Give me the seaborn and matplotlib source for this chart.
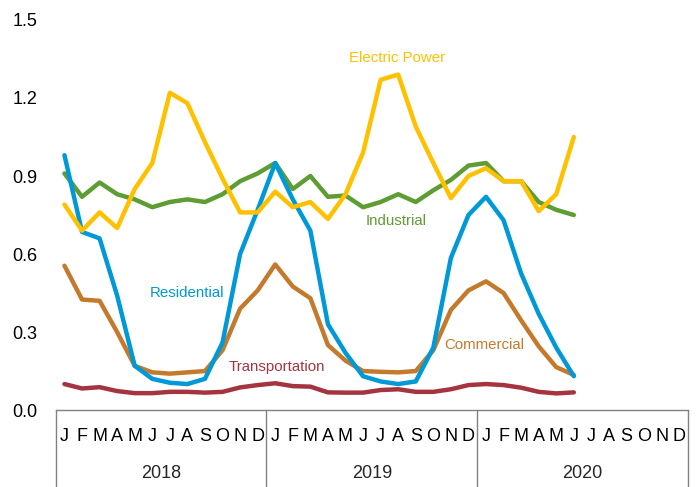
import matplotlib
matplotlib.use('Agg')
import matplotlib.pyplot as plt
import matplotlib.transforms as mtransforms
import numpy as np
import pandas as pd
import seaborn as sns

sns.set_theme(style='white')
plt.rcParams['font.family'] = ['Liberation Sans', 'DejaVu Sans']

# Jan 2018 .. Jun 2020, monthly values
electric = [0.79, 0.69, 0.76, 0.70, 0.85, 0.95, 1.22, 1.18, 1.03, 0.89, 0.76, 0.76,
            0.84, 0.78, 0.80, 0.735, 0.83, 0.99, 1.27, 1.29, 1.09, 0.95, 0.815, 0.90,
            0.93, 0.88, 0.88, 0.765, 0.83, 1.05]
industrial = [0.91, 0.82, 0.875, 0.83, 0.81, 0.78, 0.80, 0.81, 0.80, 0.83, 0.88, 0.91,
              0.95, 0.85, 0.90, 0.82, 0.825, 0.78, 0.80, 0.83, 0.80, 0.845, 0.885, 0.94,
              0.95, 0.88, 0.88, 0.80, 0.77, 0.75]
residential = [0.98, 0.685, 0.66, 0.44, 0.17, 0.12, 0.105, 0.10, 0.12, 0.26, 0.60, 0.77,
               0.95, 0.81, 0.69, 0.33, 0.22, 0.13, 0.11, 0.10, 0.11, 0.24, 0.585, 0.75,
               0.82, 0.73, 0.525, 0.37, 0.24, 0.13]
commercial = [0.555, 0.425, 0.42, 0.30, 0.17, 0.145, 0.14, 0.145, 0.15, 0.23, 0.39, 0.46,
              0.56, 0.475, 0.43, 0.25, 0.19, 0.15, 0.147, 0.145, 0.15, 0.23, 0.385, 0.46,
              0.495, 0.45, 0.345, 0.245, 0.165, 0.135]
transport = [0.10, 0.083, 0.088, 0.073, 0.065, 0.065, 0.07, 0.07, 0.067, 0.07, 0.087, 0.096,
             0.103, 0.092, 0.09, 0.068, 0.067, 0.067, 0.077, 0.08, 0.07, 0.07, 0.08, 0.096,
             0.10, 0.096, 0.086, 0.07, 0.064, 0.068]

month_letters = ['J', 'F', 'M', 'A', 'M', 'J', 'J', 'A', 'S', 'O', 'N', 'D']
years = ['2018', '2019', '2020']
y_ticks = [0.0, 0.3, 0.6, 0.9, 1.2, 1.5]

series = {
    'Transportation': transport,
    'Commercial': commercial,
    'Industrial': industrial,
    'Residential': residential,
    'Electric Power': electric,
}
palette = {
    'Transportation': '#A4343F',
    'Commercial': '#C47A2C',
    'Industrial': '#5E9C34',
    'Residential': '#0099D8',
    'Electric Power': '#FFC000',
}
# label positions (month index, value)
label_pos = {
    'Electric Power': (18.95, 1.355),
    'Industrial': (18.9, 0.728),
    'Residential': (6.95, 0.45),
    'Commercial': (23.9, 0.25),
    'Transportation': (12.1, 0.167),
}

df = pd.concat([pd.DataFrame({'month': np.arange(len(v)), 'value': v, 'sector': k})
                for k, v in series.items()], ignore_index=True)

fig = plt.figure(figsize=(6.96, 4.87), dpi=100)
ax = fig.add_axes([0.080, 0.158, 0.9085, 0.801])

sns.lineplot(data=df, x='month', y='value', hue='sector', hue_order=list(series.keys()),
             palette=palette, linewidth=3.2, legend=False, ax=ax)

for name, (x, y) in label_pos.items():
    ax.text(x, y, name, color=palette[name], fontsize=10.8, ha='center', va='center')

n_months = 12 * len(years)
ax.set_xlim(-0.5, n_months - 0.5)
ax.set_ylim(0, 1.5)
ax.set_yticks(y_ticks)
ax.set_yticklabels([f'{t:.1f}' for t in y_ticks], fontsize=13)
ax.set_xticks(range(n_months))
ax.set_xticklabels(month_letters * len(years), fontsize=13)
ax.tick_params(axis='y', length=0, pad=13, colors='black')
ax.tick_params(axis='x', direction='in', length=4, width=1, color='#808080', pad=13,
               labelcolor='black')
ax.set_xlabel('')
ax.set_ylabel('')

for side in ['top', 'left', 'right']:
    ax.spines[side].set_visible(False)
ax.spines['bottom'].set_color('#808080')
ax.spines['bottom'].set_linewidth(1)

trans = mtransforms.blended_transform_factory(ax.transData, ax.transAxes)
for k in range(len(years) + 1):
    ax.plot([12 * k - 0.5, 12 * k - 0.5], [0, -0.2], transform=trans, color='#808080',
            linewidth=1, clip_on=False)
for k, yr in enumerate(years):
    ax.text(12 * k + 5.5, -0.162, yr, transform=trans, ha='center', va='center', fontsize=13)

fig.savefig('out.png', dpi=100)
